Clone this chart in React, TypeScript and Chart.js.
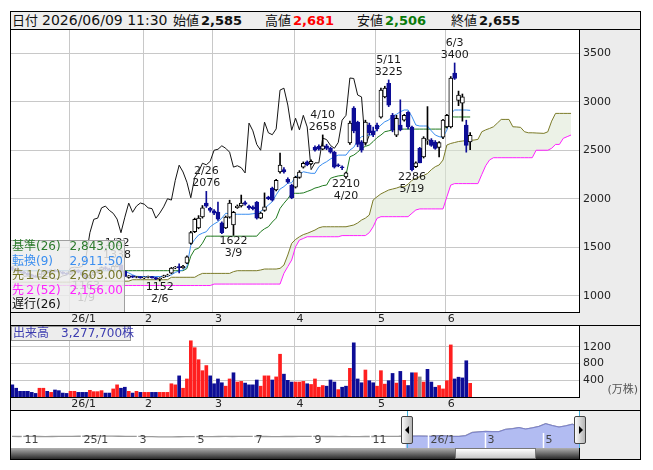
import React, { useEffect, useRef } from "react";
import { Chart, registerables } from "chart.js";

Chart.register(...registerables);

const FONT = '"DejaVu Sans", "Noto Sans CJK JP", sans-serif';

// ---------------- data ----------------
const dates = [
  "12/10","12/11","12/12","12/15","12/16","12/17","12/18","12/19","12/22","12/23","12/24","12/25","12/26","12/29","12/30",
  "1/5","1/6","1/7","1/8","1/9","1/13","1/14","1/15","1/16","1/19","1/20","1/21","1/22","1/23","1/26","1/27","1/28","1/29","1/30",
  "2/2","2/3","2/4","2/5","2/6","2/9","2/10","2/12","2/13","2/16","2/17","2/18","2/19","2/20","2/24","2/25","2/26","2/27",
  "3/2","3/3","3/4","3/5","3/6","3/9","3/10","3/11","3/12","3/13","3/16","3/17","3/18","3/19","3/23","3/24","3/25","3/26","3/27","3/30","3/31",
  "4/1","4/2","4/3","4/6","4/7","4/8","4/9","4/10","4/13","4/14","4/15","4/16","4/17","4/20","4/21","4/22","4/23","4/24","4/27","4/28","4/30",
  "5/1","5/7","5/8","5/11","5/12","5/13","5/14","5/15","5/18","5/19","5/20","5/21","5/22","5/25","5/26","5/27","5/28","5/29",
  "6/1","6/2","6/3","6/4","6/5","6/8","6/9",
];

const opens = [
  1290,1272,1258,1244,1230,1216,1205,1196,1222,1246,
  1236,1262,1252,1242,1230,1222,1246,1264,1242,1212,
  1182,1214,1240,1266,1290,1276,1262,1302,1318,1252,
  1188,1204,1190,1196,1184,1190,1198,1186,1172,1190,
  1206,1232,1286,1300,1290,1336,1540,1660,1700,1812,
  1956,1902,1876,1862,1752,1700,1810,1730,1908,1926,
  1960,1924,1914,1966,1800,1880,2016,2110,2090,2276,
  2300,2200,2140,2120,2220,2326,2380,2360,2530,2540,
  2510,2546,2520,2480,2350,2330,2226,2576,2936,2790,
  2586,2576,2760,2700,2760,2840,3050,3190,2860,2656,
  2760,2810,2890,2740,2330,2520,2430,2600,2605,2585,
  2530,2635,2740,2740,3295,3015,2985,2760,2585,
];
const highs = [
  1300,1282,1265,1252,1238,1222,1212,1228,1252,1256,
  1268,1270,1260,1248,1236,1252,1272,1268,1246,1216,
  1220,1245,1272,1298,1300,1284,1310,1338,1322,1256,
  1208,1206,1200,1198,1196,1202,1200,1190,1186,1212,
  1222,1292,1302,1330,1312,1412,1664,1800,1826,1930,
  2076,1912,1888,1966,1762,1822,1985,1870,1936,2038,
  1976,1934,1926,1972,1862,2060,2026,2120,2200,2470,
  2320,2216,2150,2232,2290,2380,2390,2400,2546,2556,
  2658,2562,2532,2490,2360,2340,2276,2800,2950,2800,
  2600,2810,2780,2740,2780,3140,3160,3225,2880,2860,
  3020,2870,2900,2750,2380,2530,2640,2950,2620,2600,
  2590,2820,2870,3260,3400,3110,3080,2810,2681,
];
const lows = [
  1262,1250,1238,1225,1210,1200,1190,1192,1218,1230,
  1232,1246,1236,1222,1214,1216,1240,1236,1204,1163,
  1176,1210,1236,1260,1268,1256,1258,1296,1248,1196,
  1180,1186,1184,1180,1176,1184,1180,1166,1152,1186,
  1200,1226,1278,1234,1282,1330,1530,1650,1690,1800,
  1910,1862,1836,1776,1640,1692,1800,1622,1900,1914,
  1934,1890,1884,1790,1794,1870,1990,1976,2080,2264,
  2264,2160,2000,2110,2210,2316,2340,2350,2490,2500,
  2504,2506,2470,2316,2330,2300,2210,2560,2680,2536,
  2480,2560,2660,2640,2700,2830,3040,2950,2690,2640,
  2700,2800,2720,2286,2320,2370,2420,2560,2540,2510,
  2430,2620,2730,2730,3230,2960,2800,2480,2506,
];
const closes = [
  1272,1258,1244,1230,1216,1205,1196,1222,1246,1236,
  1262,1252,1242,1230,1222,1246,1264,1242,1212,1182,
  1214,1240,1266,1290,1276,1262,1302,1318,1252,1200,
  1204,1190,1196,1184,1190,1198,1186,1172,1182,1204,
  1214,1286,1294,1290,1302,1402,1650,1788,1800,1906,
  1924,1880,1850,1790,1650,1810,1955,1860,1924,1956,
  1944,1906,1898,1800,1852,1916,2000,1986,2190,2346,
  2276,2170,2010,2220,2276,2366,2350,2386,2500,2510,
  2546,2520,2480,2326,2340,2320,2266,2780,2700,2560,
  2500,2790,2680,2660,2720,3120,3140,2966,2706,2830,
  2710,2860,2740,2300,2370,2370,2625,2610,2550,2520,
  2580,2810,2860,3245,3240,3070,3050,2550,2655,
];
// 出来高 (万株)
const volumes = [
  291,210,136,136,136,111,86,210,210,136,
  111,168,152,94,86,136,136,111,111,111,
  160,128,128,152,94,94,193,291,210,234,
  136,94,136,111,111,111,111,111,111,111,
  111,317,291,506,210,432,1346,1181,893,630,
  753,506,317,432,341,259,432,580,358,374,
  333,291,291,407,259,506,506,407,481,1024,
  547,399,358,358,358,374,317,300,432,234,
  275,259,407,358,177,234,259,687,1297,432,
  341,646,390,341,259,630,308,390,564,333,
  613,399,275,580,580,481,358,662,358,234,
  275,193,390,1247,432,474,457,868,327.77,
];
// 転換線(9)
const tenkan = [
  1258,1258,1258,1258,1258,1258,1258,1258,1258,1258,
  1258,1258,1258,1258,1258,1258,1258,1258,1258,1258,
  1258,1258,1258,1258,1258,1258,1258,1258,1258,1250,
  1235,1215,1200,1198,1198,1198,1198,1198,1198,1198,
  1200,1215,1240,1255,1265,1300,1520,1580,1626,1645,
  1660,1711,1740,1763,1800,1850,1845,1840,1840,1840,
  1840,1840,1845,1850,1870,1900,1935,1970,2040,2100,
  2125,2160,2165,2227,2250,2278,2270,2262,2262,2330,
  2360,2382,2410,2433,2450,2450,2450,2502,2530,2600,
  2640,2650,2657,2657,2720,2760,2794,2811,2853,2870,
  2897,2915,2915,2846,2760,2750,2750,2750,2700,2657,
  2640,2633,2708,2880,2915,2915,2915,2915,2911.5,
];
// 基準線(26)
const kijun = [
  1258,1258,1258,1258,1258,1258,1258,1258,1258,1258,
  1258,1258,1258,1258,1258,1258,1258,1258,1258,1258,
  1258,1258,1258,1258,1258,1258,1258,1258,1258,1258,
  1258,1258,1258,1258,1258,1258,1258,1258,1258,1258,
  1258,1258,1258,1258,1258,1280,1408,1476,1489,1541,
  1614,1614,1614,1614,1614,1614,1614,1614,1614,1614,
  1614,1614,1614,1614,1660,1690,1711,1760,1800,1900,
  1953,2000,2056,2056,2056,2060,2075,2090,2110,2120,
  2135,2141,2210,2225,2235,2240,2245,2433,2450,2480,
  2520,2540,2554,2590,2630,2657,2691,2700,2710,2718,
  2718,2718,2718,2718,2718,2718,2718,2718,2718,2718,
  2718,2718,2742,2846,2843,2843,2843,2843,2843,
];
// 先行スパン1 (plotted 26 days ahead; index = chart slot)
const senkouA = [
  1140,1140,1140,1140,1140,1140,1140,1140,1140,1140,
  1140,1140,1140,1140,1140,1140,1150,1150,1150,1150,
  1150,1150,1150,1150,1150,1150,1150,1150,1150,1150,
  1150,1165,1165,1165,1165,1165,1165,1165,1165,1165,
  1165,1190,1190,1190,1190,1190,1190,1190,1213,1230,
  1230,1230,1230,1230,1230,1230,1230,1248,1258,1258,
  1258,1258,1258,1258,1265,1275,1275,1275,1275,1282,
  1316,1420,1540,1580,1608,1630,1643,1660,1677,1700,
  1711,1711,1711,1711,1711,1711,1711,1720,1729,1750,
  1780,1800,1832,1987,2020,2050,2070,2090,2100,2110,
  2124,2124,2150,2190,2210,2227,2240,2260,2300,2330,
  2348,2399,2554,2570,2580,2590,2595,2600,2603,2605,
  2612,2691,2710,2725,2742,2780,2818,2818,2818,2742,
  2740,2736,2691,2680,2680,2678,2676,2674,2690,2800,
  2880,2880,2880,2880,2880,
];
// 先行スパン2 (52)
const senkouB = [
  1105,1105,1105,1105,1105,1105,1105,1105,1105,1105,
  1105,1105,1105,1105,1105,1105,1105,1105,1105,1105,
  1105,1105,1105,1105,1105,1105,1105,1105,1105,1105,
  1105,1105,1105,1105,1105,1105,1105,1105,1105,1105,
  1105,1105,1105,1105,1105,1105,1105,1105,1105,1105,
  1105,1105,1120,1120,1120,1120,1120,1120,1120,1120,
  1120,1120,1120,1120,1120,1120,1120,1120,1120,1120,
  1231,1300,1368,1505,1574,1590,1608,1608,1608,1608,
  1608,1608,1608,1608,1608,1620,1620,1620,1620,1620,
  1620,1620,1650,1711,1798,1815,1815,1815,1815,1815,
  1815,1815,1815,1850,1884,1895,1895,1895,1895,1895,
  1895,1895,2020,2141,2156,2156,2156,2156,2156,2156,
  2156,2250,2340,2400,2423,2423,2423,2423,2423,2423,
  2423,2423,2423,2423,2423,2500,2500,2500,2500,2520,
  2560,2560,2623,2640,2657,
];
const highMarks = [27, 50, 80, 97, 114];
const lowMarks = [19, 38, 57, 86, 103];
const LAG = 26;

// navigator (weekly closes, week 0 = 2024/10/21)
const navCloses = [
  1180,1175,1190,1185,1170,1160,1175,1180,1195,1200,
  1210,1220,1205,1215,1230,1225,1210,1200,1190,1180,
  1150,1140,1120,1100,1110,1130,1150,1160,1170,1165,
  1160,1170,1180,1175,1185,1190,1180,1175,1170,1165,
  1160,1170,1175,1180,1190,1185,1180,1175,1170,1165,
  1170,1160,1165,1170,1175,1180,1190,1200,1210,
  1244,1222,1242,1222,1182,1290,1252,1184,1182,1294,
  1788,1880,1955,1906,1916,2276,2366,2546,2320,2500,
  2720,3140,2860,2625,2810,3050,2655,
];
const navSelStart = 59;
const navTickWeeks = [1.57, 10.29, 18.71, 27.43, 36.14, 45, 53.71, 62.43, 70.86, 79.57];
const navTickLabels = ["11", "25/1", "3", "5", "7", "9", "11", "26/1", "3", "5"];

// ---------------- derived ----------------
const idx = dates.map((_, i) => i);
const monthOf = (d: string) => d.split("/")[0];
const monthStarts = idx.filter((i) => i > 0 && monthOf(dates[i]) !== monthOf(dates[i - 1]));
const monthLabels = monthStarts.map((i) => (monthOf(dates[i]) === "1" ? "26/1" : monthOf(dates[i])));
const last = dates.length - 1;

const NAVY = "#0d0d96";
const RED = "#ff1f1f";
const GRID = "#c8c8c8";
const X_MIN = -0.34;
const X_MAX = 146.05;

const fmt = (v: number, d = 0) =>
  v.toLocaleString("en-US", { minimumFractionDigits: d, maximumFractionDigits: d });

const whiteArea = {
  id: "whiteArea",
  beforeDraw(chart: any) {
    const { ctx, chartArea: a } = chart;
    ctx.save();
    ctx.fillStyle = "#ffffff";
    ctx.fillRect(a.left, a.top, a.right - a.left, a.bottom - a.top);
    ctx.restore();
  },
};

const markPlugin = {
  id: "marks",
  afterDatasetsDraw(chart: any) {
    const { ctx, scales } = chart;
    const x = scales.x, y = scales.y;
    ctx.save();
    ctx.font = `11px ${FONT}`;
    ctx.fillStyle = "#1a1a1a";
    ctx.textAlign = "center";
    ctx.textBaseline = "middle";
    highMarks.forEach((i) => {
      const px = x.getPixelForValue(i);
      const py = y.getPixelForValue(highs[i]);
      ctx.fillText(String(highs[i]), px, py - 8);
      ctx.fillText(dates[i], px, py - 20);
    });
    lowMarks.forEach((i) => {
      const px = x.getPixelForValue(i);
      const py = y.getPixelForValue(lows[i]);
      ctx.fillText(String(lows[i]), px, py + 6);
      ctx.fillText(dates[i], px, py + 18);
    });
    ctx.restore();
  },
};

const navTicksPlugin = {
  id: "navTicks",
  afterDatasetsDraw(chart: any) {
    const { ctx, chartArea: a, scales } = chart;
    const x = scales.x;
    ctx.save();
    ctx.font = `11px ${FONT}`;
    ctx.textAlign = "left";
    ctx.textBaseline = "middle";
    navTickWeeks.forEach((w, k) => {
      const px = Math.round(x.getPixelForValue(w)) + 0.5;
      ctx.strokeStyle = "#ffffff";
      ctx.lineWidth = 1.5;
      ctx.beginPath();
      ctx.moveTo(px, a.bottom - 15);
      ctx.lineTo(px, a.bottom);
      ctx.stroke();
      ctx.fillStyle = "#444";
      ctx.fillText(navTickLabels[k], px + 2, a.bottom - 8);
    });
    ctx.restore();
  },
};

const fitY = (w: number) => (axis: any) => {
  axis.width = w;
  axis.paddingTop = 0; axis.paddingBottom = 0; axis.paddingLeft = 0; axis.paddingRight = 0;
};
const fitX = (h: number) => (axis: any) => {
  axis.height = h;
  axis.paddingTop = 0; axis.paddingBottom = 0; axis.paddingLeft = 0; axis.paddingRight = 0;
};

const monthXAxis = (h: number) => ({
  type: "linear",
  min: X_MIN,
  max: X_MAX,
  offset: false,
  position: "bottom",
  afterBuildTicks: (axis: any) => {
    axis.ticks = monthStarts.map((i) => ({ value: i - 0.3 }));
  },
  afterFit: fitX(h),
  grid: { color: GRID, offset: false, drawTicks: false, lineWidth: 1 },
  border: { display: true, color: "#000", width: 1 },
  ticks: {
    autoSkip: false,
    maxRotation: 0,
    align: "start",
    labelOffset: 2,
    padding: 1,
    color: "#222",
    font: { family: FONT, size: 11 },
    callback: (_v: any, i: number) => monthLabels[i],
  },
});

const upDay = (i: number) => closes[i] >= opens[i];

function mainConfig(): any {
  return {
    type: "bar",
    data: {
      datasets: [
        {
          type: "line", label: "先1",
          data: senkouA.map((v, i) => ({ x: i, y: v })),
          borderColor: "#7b7b28", borderWidth: 1, pointRadius: 0,
          fill: "+1", backgroundColor: "rgba(220,232,212,0.55)", order: 9,
        },
        {
          type: "line", label: "先2",
          data: senkouB.map((v, i) => ({ x: i, y: v })),
          borderColor: "#ff22ff", borderWidth: 1, pointRadius: 0, fill: false, order: 8,
        },
        {
          type: "line", label: "遅行",
          data: closes.map((v, i) => ({ x: i - LAG, y: v })),
          borderColor: "#151515", borderWidth: 1, pointRadius: 0, fill: false, order: 7,
        },
        {
          type: "line", label: "基準",
          data: kijun.map((v, i) => ({ x: i, y: v })),
          borderColor: "#1f7a1f", borderWidth: 1, pointRadius: 0, fill: false, order: 6,
        },
        {
          type: "line", label: "転換",
          data: tenkan.map((v, i) => ({ x: i, y: v })),
          borderColor: "#3a8ef0", borderWidth: 1, pointRadius: 0, fill: false, order: 5,
        },
        {
          type: "bar", label: "wick",
          data: idx.map((i) => ({ x: i, y: [lows[i], highs[i]] })),
          backgroundColor: (c: any) => (upDay(c.dataIndex) ? "#000" : NAVY),
          barThickness: 1, grouped: false, order: 2,
        },
        {
          type: "bar", label: "body",
          data: idx.map((i) => ({ x: i, y: [opens[i], closes[i]] })),
          backgroundColor: (c: any) => (upDay(c.dataIndex) ? "#ffffff" : NAVY),
          borderColor: (c: any) => (upDay(c.dataIndex) ? "#000" : NAVY),
          borderWidth: 1, borderSkipped: false, barThickness: 4, grouped: false, order: 1,
        },
      ],
    },
    options: {
      animation: false,
      responsive: false,
      events: [],
      layout: { padding: 0 },
      plugins: { legend: { display: false }, tooltip: { enabled: false } },
      scales: {
        x: monthXAxis(13),
        y: {
          type: "linear",
          position: "right",
          min: 832,
          max: 3740,
          beginAtZero: false,
          afterBuildTicks: (axis: any) => {
            axis.ticks = [1000, 1500, 2000, 2500, 3000, 3500].map((v) => ({ value: v }));
          },
          afterFit: fitY(61),
          grid: { color: GRID, drawTicks: false, lineWidth: 1 },
          border: { display: true, color: "#000", width: 1 },
          ticks: {
            padding: 4,
            color: "#222",
            font: { family: FONT, size: 11 },
            callback: (v: any) => String(v),
          },
        },
      },
    },
    plugins: [whiteArea, markPlugin],
  };
}

function volConfig(): any {
  return {
    type: "bar",
    data: {
      datasets: [
        {
          label: "出来高",
          data: idx.map((i) => ({ x: i, y: volumes[i] })),
          backgroundColor: (c: any) => {
            const i = c.dataIndex;
            const prev = i > 0 ? closes[i - 1] : opens[i];
            return closes[i] > prev ? RED : closes[i] < prev ? NAVY : "#8a8a8a";
          },
          barThickness: 3,
          grouped: false,
        },
      ],
    },
    options: {
      animation: false,
      responsive: false,
      events: [],
      layout: { padding: 0 },
      plugins: { legend: { display: false }, tooltip: { enabled: false } },
      scales: {
        x: monthXAxis(13),
        y: {
          type: "linear",
          position: "right",
          min: 0,
          max: 1700,
          afterBuildTicks: (axis: any) => {
            axis.ticks = [400, 800, 1200].map((v) => ({ value: v }));
          },
          afterFit: fitY(61),
          grid: { color: GRID, drawTicks: false, lineWidth: 1 },
          border: { display: true, color: "#000", width: 1 },
          ticks: {
            padding: 4,
            color: "#222",
            font: { family: FONT, size: 11 },
            callback: (v: any) => String(v),
          },
        },
      },
    },
    plugins: [whiteArea],
  };
}

function navConfig(): any {
  return {
    type: "line",
    data: {
      datasets: [
        {
          label: "all",
          data: navCloses.map((v, w) => ({ x: w, y: v })),
          borderColor: "#9a9a9a", borderWidth: 1.3, pointRadius: 0, fill: false, order: 2,
        },
        {
          label: "sel",
          data: navCloses.slice(navSelStart).map((v, k) => ({ x: navSelStart + k, y: v })),
          borderColor: "#7c82cc", borderWidth: 1, pointRadius: 0,
          fill: "start", backgroundColor: "rgba(164,176,240,0.85)", order: 1,
        },
      ],
    },
    options: {
      animation: false,
      responsive: false,
      events: [],
      layout: { padding: 0 },
      plugins: { legend: { display: false }, tooltip: { enabled: false } },
      scales: {
        x: { type: "linear", display: false, min: -0.15, max: 85 },
        y: { type: "linear", display: false, min: -595, max: 5090 },
      },
    },
    plugins: [whiteArea, navTicksPlugin],
  };
}

const abs = (l: number, t: number, w: number, h: number, extra: any = {}) => ({
  position: "absolute" as const, left: l, top: t, width: w, height: h, ...extra,
});

export default function App() {
  const mainRef = useRef<HTMLCanvasElement>(null);
  const volRef = useRef<HTMLCanvasElement>(null);
  const navRef = useRef<HTMLCanvasElement>(null);

  useEffect(() => {
    const charts = [
      new Chart(mainRef.current as HTMLCanvasElement, mainConfig()),
      new Chart(volRef.current as HTMLCanvasElement, volConfig()),
      new Chart(navRef.current as HTMLCanvasElement, navConfig()),
    ];
    return () => charts.forEach((c) => c.destroy());
  }, []);

  const legendRows = [
    { t: "基準(26)", v: fmt(kijun[last], 2), c: "#2c7a2c" },
    { t: "転換(9)", v: fmt(tenkan[last], 2), c: "#3a8ef0" },
    { t: "先１(26)", v: fmt(senkouA[last], 2), c: "#77772a" },
    { t: "先２(52)", v: fmt(senkouB[last], 2), c: "#ff22ff" },
    { t: "遅行(26)", v: "", c: "#111" },
  ];

  const hdr = (l: number, text: string, extra: any = {}) => (
    <span style={{ position: "absolute", left: l, top: 0, lineHeight: "17px", whiteSpace: "nowrap", fontSize: 13, ...extra }}>
      {text}
    </span>
  );

  return (
    <div style={{ position: "absolute", left: 0, top: 0, width: 653, height: 470, fontFamily: FONT, color: "#111" }}>
      {/* frame */}
      <div style={abs(10, 11, 631, 449, { background: "#ececec", border: "1px solid #000", boxSizing: "border-box" })} />
      {/* header */}
      <div style={abs(11, 12, 629, 18, { background: "#eeeeee", borderBottom: "1px solid #000", boxSizing: "border-box" })}>
        {hdr(1, "日付")}
        {hdr(31, "2026/06/09 11:30", { fontSize: 14 })}
        {hdr(162, "始値")}
        {hdr(190, fmt(opens[last]), { fontWeight: "bold" })}
        {hdr(254, "高値")}
        {hdr(282, fmt(highs[last]), { fontWeight: "bold", color: "#ff0000" })}
        {hdr(346, "安値")}
        {hdr(374, fmt(lows[last]), { fontWeight: "bold", color: "#0a7a0a" })}
        {hdr(440, "終値")}
        {hdr(468, fmt(closes[last]), { fontWeight: "bold" })}
      </div>

      <canvas ref={mainRef} width={629} height={295} style={abs(11, 30, 629, 295)} />
      <div style={abs(10, 325, 631, 1, { background: "#000" })} />
      <canvas ref={volRef} width={629} height={84} style={abs(11, 326, 629, 84)} />
      <div style={abs(10, 410, 631, 1, { background: "#000" })} />
      <canvas ref={navRef} width={568} height={37} style={abs(11, 411, 568, 37)} />
      <div style={abs(579, 410, 1, 49, { background: "#000" })} />

      {/* legend */}
      <div style={abs(11, 240, 114, 72, { background: "rgba(236,236,236,0.84)", borderRight: "1px solid #a0a0a0", borderTop: "1px solid #a0a0a0", boxSizing: "border-box" })}>
        {legendRows.map((r, k) => (
          <div key={k} style={{ position: "absolute", left: 0, top: -2 + k * 14.5, width: 113, height: 14.5, lineHeight: "14.5px", fontSize: 12, color: r.c, whiteSpace: "nowrap" }}>
            <span style={{ position: "absolute", left: 1 }}>{r.t}</span>
            <span style={{ position: "absolute", right: 1 }}>{r.v}</span>
          </div>
        ))}
      </div>

      {/* volume title */}
      <div style={abs(11, 326, 120, 15, { background: "rgba(236,236,236,0.92)", border: "1px solid #999", boxSizing: "border-box", fontSize: 12, lineHeight: "13px", color: "#3c3cb0", whiteSpace: "nowrap", paddingLeft: 1 })}>
        出来高　{fmt(Math.round(volumes[last] * 10000))}株
      </div>
      <div style={abs(600, 383, 38, 14, { fontSize: 11, lineHeight: "14px", color: "#555", textAlign: "right", whiteSpace: "nowrap" })}>
        (万株)
      </div>

      {/* navigator widgets */}
      <div style={abs(407, 411, 1, 37, { background: "#46b4dc" })} />
      <div style={abs(579, 411, 1, 37, { background: "#46b4dc" })} />
      <div style={abs(401, 416, 12, 28, { border: "1px solid #444", boxSizing: "border-box", borderRadius: 2, background: "linear-gradient(to right, #fafafa, #b5b5b5)" })}>
        <div style={{ position: "absolute", left: 3, top: 9, width: 0, height: 0, borderTop: "4px solid transparent", borderBottom: "4px solid transparent", borderRight: "4px solid #000" }} />
      </div>
      <div style={abs(574, 416, 12, 28, { border: "1px solid #444", boxSizing: "border-box", borderRadius: 2, background: "linear-gradient(to right, #fafafa, #b5b5b5)" })}>
        <div style={{ position: "absolute", left: 4, top: 9, width: 0, height: 0, borderTop: "4px solid transparent", borderBottom: "4px solid transparent", borderLeft: "4px solid #000" }} />
      </div>
      <div style={abs(11, 448, 568, 11, { background: "linear-gradient(#b0b0b0, #2a2a2a)" })} />
      <div style={abs(455, 448, 81, 11, { background: "linear-gradient(#ffffff, #c8c8c8)", border: "1px solid #777", boxSizing: "border-box" })} />
    </div>
  );
}
